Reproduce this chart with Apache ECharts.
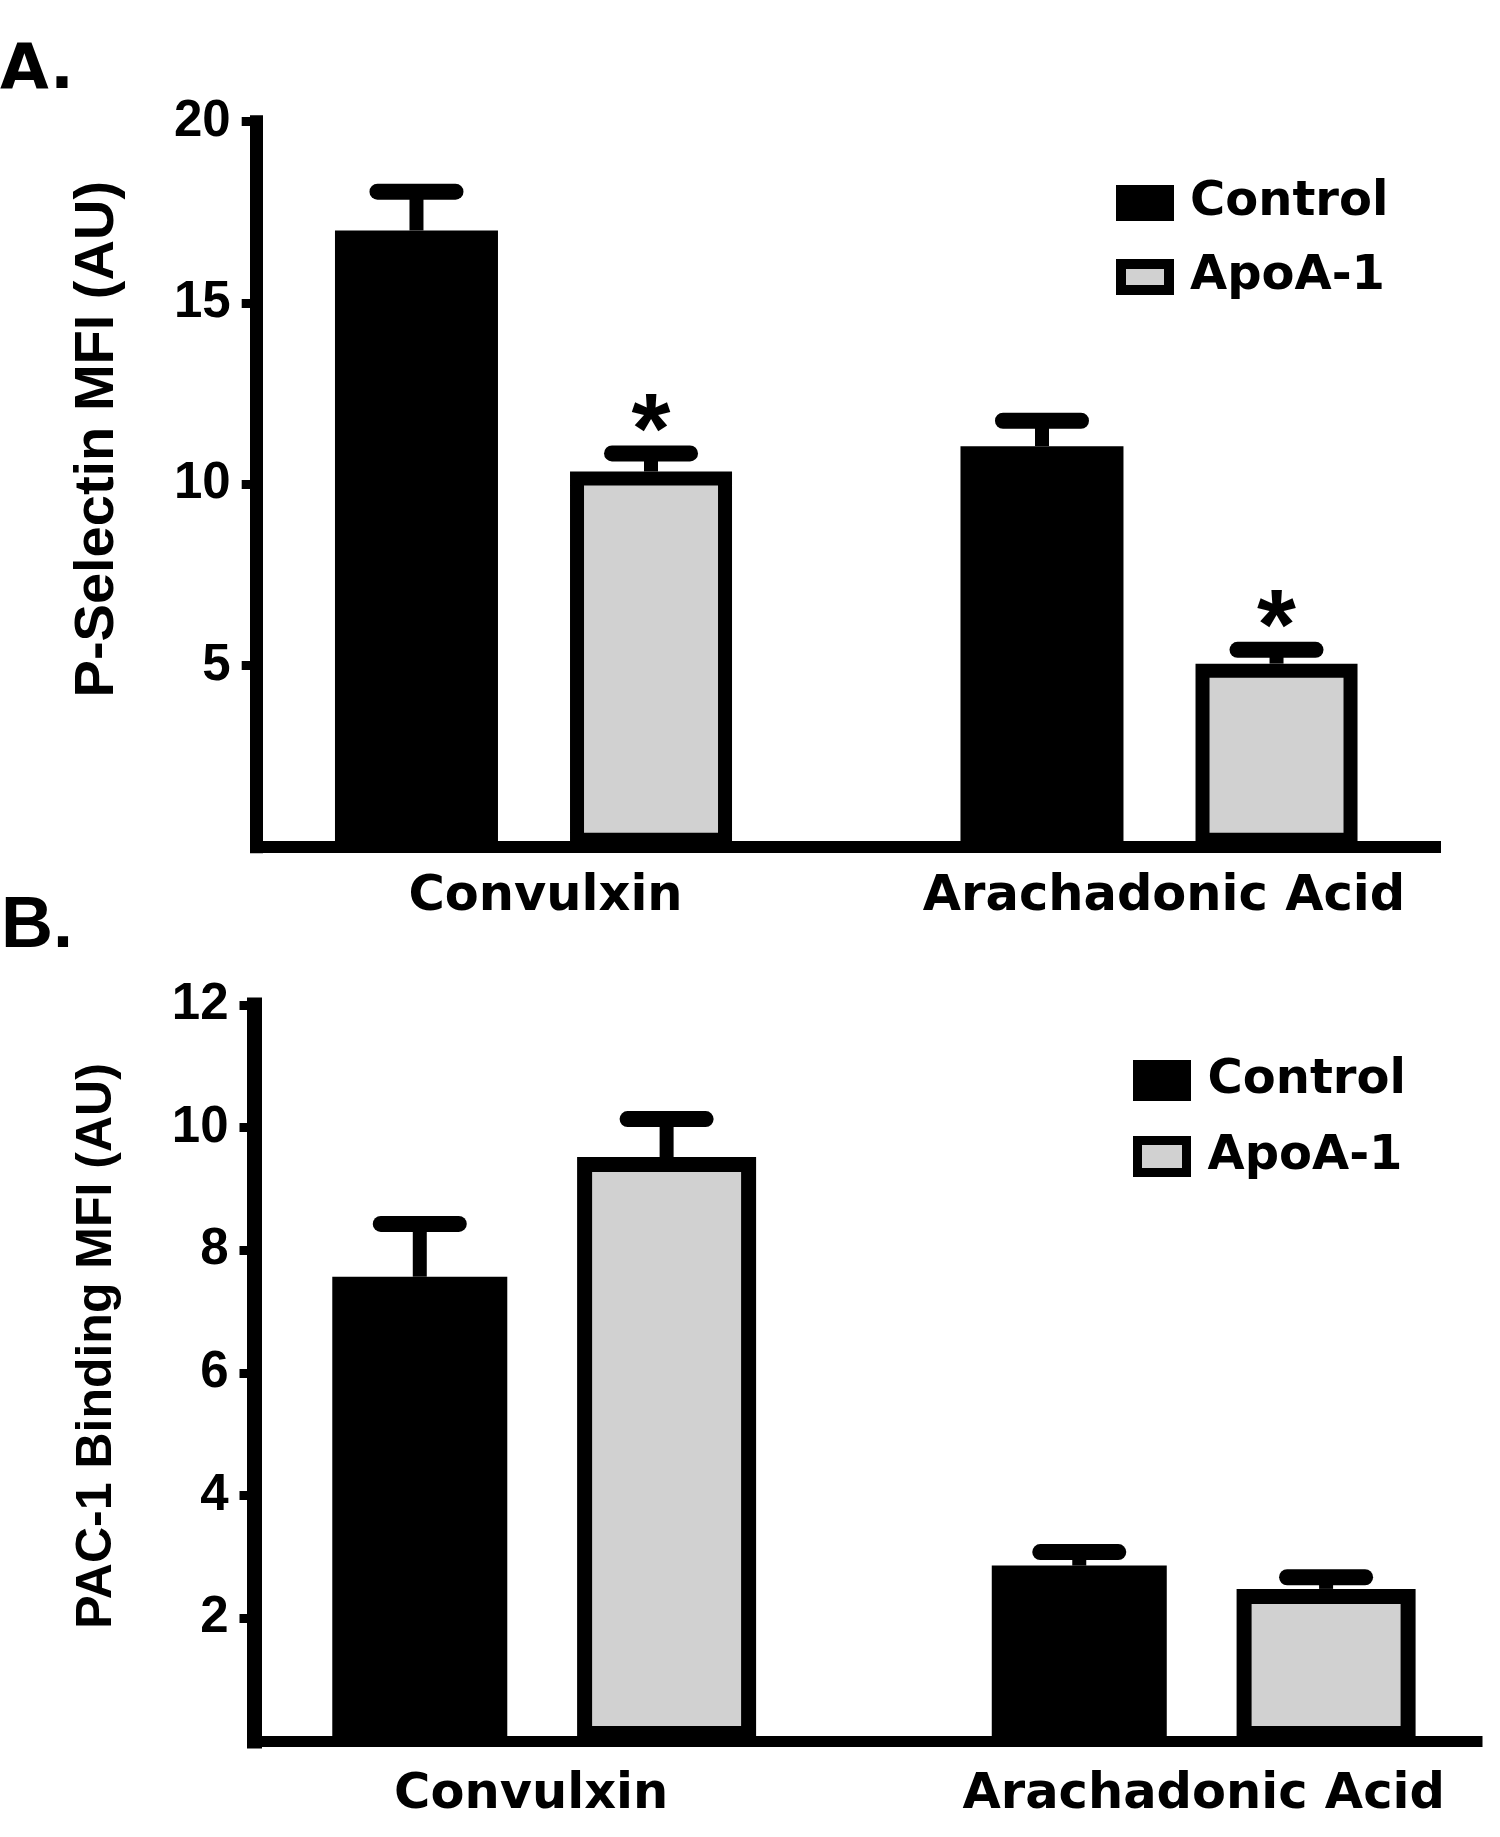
<!DOCTYPE html>
<html>
<head>
<meta charset="utf-8">
<script src="https://cdn.jsdelivr.net/npm/echarts@6/dist/echarts.min.js"></script>
<style>
html, body { margin: 0; padding: 0; background: #ffffff; }
#chart { width: 1500px; height: 1837px; }
</style>
</head>
<body>
<div id="chart"></div>
<script>
// ---------------- DATA ----------------
const categories = ['Convulxin', 'Arachadonic Acid'];
const seriesNames = ['Control', 'ApoA-1'];
const panelTitles = ['A.', 'B.'];
const yTitles = ['P-Selectin MFI (AU)', 'PAC-1 Binding MFI (AU)'];

// Panel A : P-Selectin MFI
const pSelControl = [17.0, 11.05];
const pSelControlErr = [1.07, 0.70];
const pSelApo = [10.35, 5.05];
const pSelApoErr = [0.50, 0.38];
const pSelApoSig = ['*', '*'];
const pSelTicks = [5, 10, 15, 20];

// Panel B : PAC-1 Binding MFI
const pacControl = [7.57, 2.86];
const pacControlErr = [0.86, 0.22];
const pacApo = [9.52, 2.48];
const pacApoErr = [0.62, 0.19];
const pacApoSig = ['', ''];
const pacTicks = [2, 4, 6, 8, 10, 12];

// ---------------- STYLE / LAYOUT ----------------
const GRAY = '#d1d1d1';
const BLACK = '#000000';
const catIndex = categories.map(function (c, i) { return i; });
const CAT_FONT = { fontFamily: 'DejaVu Sans', fontWeight: 'bold', fontSize: 49.5, color: BLACK };

const panels = [
  {
    title: panelTitles[0], yTitle: yTitles[0],
    control: pSelControl, controlErr: pSelControlErr,
    apo: pSelApo, apoErr: pSelApoErr, apoSig: pSelApoSig, ticks: pSelTicks,
    titleStyle: { left: 0, top: 40, fontFamily: 'DejaVu Sans', fontSize: 63 },
    axisGrid: { left: 256.7, top: 121.7, right: 65, bottom: 990.3 },
    dataGrid: { left: 220.75, top: 121.7, width: 1251, bottom: 990.3 },
    xRange: [-0.5, 1.5],
    yLineW: 13, xLineW: 12,
    nameSize: 56, nameGap: 131, namePad: 90,
    catMargin: 25, catPads: [[0, 0, 0, 24], [0, 0, 0, 10]],
    w1: 163, w2: 162, gap: 0.442, border: 14,
    legend: { left: 1116, top: 179, itemWidth: 48, itemHeight: 26, itemGap: 26, border: 10 }
  },
  {
    title: panelTitles[1], yTitle: yTitles[1],
    control: pacControl, controlErr: pacControlErr,
    apo: pacApo, apoErr: pacApoErr, apoSig: pacApoSig, ticks: pacTicks,
    titleStyle: { left: 1, top: 891.5, fontFamily: 'Liberation Sans', fontSize: 72 },
    axisGrid: { left: 254.5, top: 1005, right: 23, bottom: 96 },
    dataGrid: { left: 214.45, top: 1005, width: 1265.55, bottom: 96 },
    xRange: [-0.5, 1.419],
    yLineW: 15, xLineW: 11,
    nameSize: 50, nameGap: 132, namePad: 54,
    catMargin: 29, catPads: [[0, 26, 0, 0], [0, 0, 0, 0]],
    w1: 175, w2: 179, gap: 0.399, border: 15,
    legend: { left: 1133, top: 1056.5, itemWidth: 49, itemHeight: 32, itemGap: 28, border: 9 }
  }
];

const ERR = { stemW: 14, capW: 16, capHalf: 39, sigGap: 18, sigFont: 'bold 100px "Liberation Sans"' };

const option = {
  animation: false,
  backgroundColor: '#ffffff',
  title: [], grid: [], xAxis: [], yAxis: [], legend: [], series: []
};

function errorSeries(axisIdx, values, errs, sigs, offset) {
  return {
    type: 'custom',
    name: 'err' + axisIdx + '_' + offset,
    xAxisIndex: axisIdx, yAxisIndex: axisIdx,
    z: 3, silent: true,
    encode: { x: 0, y: 1 },
    data: values.map(function (v, i) { return [catIndex[i], v, errs[i]]; }),
    renderItem: function (params, api) {
      const i = api.value(0), v = api.value(1), e = api.value(2);
      const p0 = api.coord([i, v]);
      const p1 = api.coord([i, v + e]);
      const x = p0[0] + offset;
      const children = [
        { type: 'line', shape: { x1: x, y1: p0[1], x2: x, y2: p1[1] },
          style: { stroke: BLACK, lineWidth: ERR.stemW } },
        { type: 'line', shape: { x1: x - ERR.capHalf, y1: p1[1], x2: x + ERR.capHalf, y2: p1[1] },
          style: { stroke: BLACK, lineWidth: ERR.capW, lineCap: 'round' } }
      ];
      const s = sigs ? sigs[params.dataIndex] : '';
      if (s) {
        children.push({ type: 'text', x: x, y: p1[1] - ERR.sigGap,
          style: { text: s, align: 'center', verticalAlign: 'middle', font: ERR.sigFont, fill: BLACK } });
      }
      return { type: 'group', children: children };
    }
  };
}

panels.forEach(function (p, pi) {
  const aIdx = pi * 2, dIdx = pi * 2 + 1;
  const ymax = p.ticks[p.ticks.length - 1];
  const interval = p.ticks[1] - p.ticks[0];

  option.title.push({
    text: p.title, left: p.titleStyle.left, top: p.titleStyle.top, padding: 0,
    textStyle: { fontFamily: p.titleStyle.fontFamily, fontWeight: 'bold', fontSize: p.titleStyle.fontSize, color: BLACK }
  });

  option.grid.push(Object.assign({ containLabel: false }, p.axisGrid));
  option.grid.push(Object.assign({ containLabel: false }, p.dataGrid));

  // visible axes (frame)
  option.xAxis.push({
    type: 'value', gridIndex: aIdx, min: 0, max: 1,
    axisLine: { show: true, onZero: false, lineStyle: { color: BLACK, width: p.xLineW, cap: 'square' } },
    axisTick: { show: false }, axisLabel: { show: false }, splitLine: { show: false }
  });
  option.yAxis.push({
    type: 'value', gridIndex: aIdx, min: 0, max: ymax, interval: interval,
    axisLine: { show: true, onZero: false, lineStyle: { color: BLACK, width: p.yLineW, cap: 'square' } },
    axisTick: { show: true, length: 15, customValues: p.ticks, lineStyle: { color: BLACK, width: 9 } },
    axisLabel: { show: true, customValues: p.ticks, margin: 26, color: BLACK,
      fontFamily: 'Liberation Sans', fontWeight: 'bold', fontSize: 51 },
    splitLine: { show: false },
    name: p.yTitle, nameLocation: 'middle', nameGap: p.nameGap,
    nameTextStyle: { fontFamily: 'Liberation Sans', fontWeight: 'bold', fontSize: p.nameSize, color: BLACK,
      padding: [0, 0, 0, p.namePad] }
  });

  // data axes (group positions + category labels)
  const rich = {};
  catIndex.forEach(function (i) {
    rich['c' + i] = Object.assign({ padding: p.catPads[i] }, CAT_FONT);
  });
  option.xAxis.push({
    type: 'value', gridIndex: dIdx, min: p.xRange[0], max: p.xRange[1],
    axisLine: { show: false }, axisTick: { show: false }, splitLine: { show: false },
    axisLabel: Object.assign({ customValues: catIndex, margin: p.catMargin, rich: rich,
      formatter: function (v) { const i = Math.round(v); return '{c' + i + '|' + categories[i] + '}'; } }, CAT_FONT)
  });
  option.yAxis.push({ type: 'value', gridIndex: dIdx, min: 0, max: ymax, show: false, splitLine: { show: false } });

  const gapPct = (p.gap * 100) + '%';
  option.series.push({
    type: 'bar', name: seriesNames[0], xAxisIndex: dIdx, yAxisIndex: dIdx,
    barWidth: p.w1, barGap: gapPct,
    data: p.control.map(function (v, i) { return [catIndex[i], v]; }),
    itemStyle: { color: BLACK }, emphasis: { disabled: true }
  });
  option.series.push({
    type: 'bar', name: seriesNames[1], xAxisIndex: dIdx, yAxisIndex: dIdx,
    barWidth: p.w2, barGap: gapPct,
    data: p.apo.map(function (v, i) { return [catIndex[i], v]; }),
    itemStyle: { color: GRAY, borderColor: BLACK, borderWidth: p.border }, emphasis: { disabled: true }
  });

  const total = p.w1 * (1 + p.gap) + p.w2;
  const ctrlOff = -total / 2 + p.w1 / 2;
  const apoOff = -total / 2 + p.w1 * (1 + p.gap) + p.w2 / 2;
  option.series.push(errorSeries(dIdx, p.control, p.controlErr, null, ctrlOff));
  option.series.push(errorSeries(dIdx, p.apo, p.apoErr, p.apoSig, apoOff));

  option.legend.push({
    orient: 'vertical', left: p.legend.left, top: p.legend.top, padding: 0,
    itemWidth: p.legend.itemWidth, itemHeight: p.legend.itemHeight, itemGap: p.legend.itemGap,
    icon: 'rect', selectedMode: false,
    data: [
      { name: seriesNames[0], itemStyle: { color: BLACK, borderColor: BLACK, borderWidth: p.legend.border } },
      { name: seriesNames[1], itemStyle: { color: GRAY, borderColor: BLACK, borderWidth: p.legend.border } }
    ],
    textStyle: { fontFamily: 'DejaVu Sans', fontWeight: 'bold', fontSize: 48, color: BLACK, padding: [0, 0, 0, 16] }
  });
});

const chart = echarts.init(document.getElementById('chart'), null, { renderer: 'canvas' });
chart.setOption(option);
</script>
</body>
</html>
